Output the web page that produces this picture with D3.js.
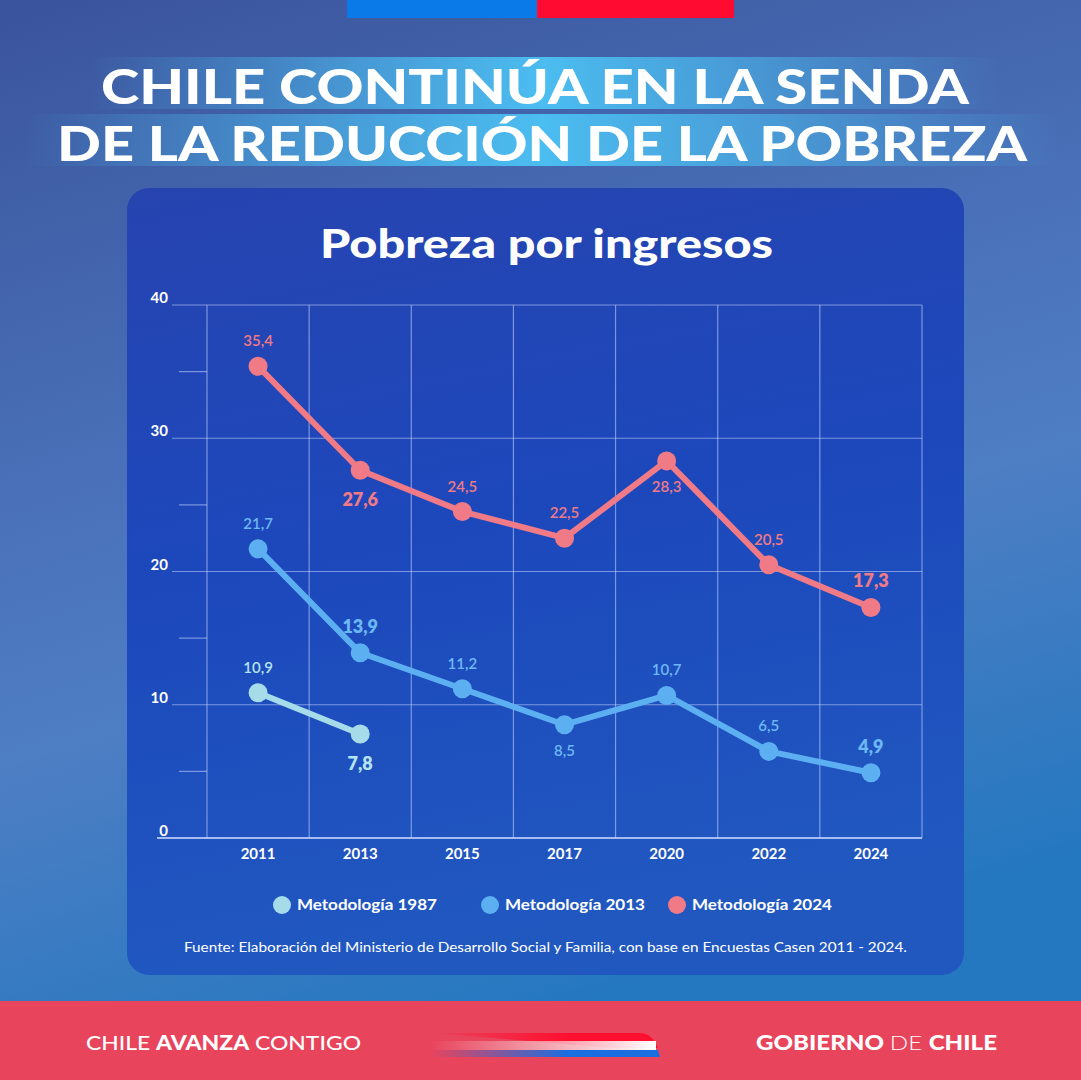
<!DOCTYPE html>
<html lang="es">
<head>
<meta charset="UTF-8">
<title>Pobreza por ingresos</title>
<script src="https://cdn.jsdelivr.net/npm/d3@7"></script>
<style>
  body { margin: 0; background: #3a5aa0; }
  svg { display: block; }
  text { font-family: Lato, "Open Sans", sans-serif; }
</style>
</head>
<body>
<div id="chart"></div>
<script>
// data
const years = ["2011", "2013", "2015", "2017", "2020", "2022", "2024"];
const met1987 = [10.9, 7.8, null, null, null, null, null];
const met2013 = [21.7, 13.9, 11.2, 8.5, 10.7, 6.5, 4.9];
const met2024 = [35.4, 27.6, 24.5, 22.5, 28.3, 20.5, 17.3];
const yTicks = [0, 10, 20, 30, 40];
const seriesNames = ["Metodología 1987", "Metodología 2013", "Metodología 2024"];

// label placement: 1 = above, -1 = below; big = highlighted value
const place1987 = [1, -1];
const place2013 = [1, 1, 1, -1, 1, 1, 1];
const place2024 = [1, -1, 1, 1, -1, 1, 1];
const big1987 = [false, true];
const big2013 = [false, true, false, false, false, false, true];
const big2024 = [false, true, false, false, false, false, true];

const W = 1081, H = 1080;
const svg = d3.select("#chart").append("svg").attr("width", W).attr("height", H);
const defs = svg.append("defs");

const bg = defs.append("linearGradient").attr("id", "bg").attr("x1", 0).attr("y1", 0).attr("x2", 0.3).attr("y2", 1);
bg.append("stop").attr("offset", 0).attr("stop-color", "#3a549c");
bg.append("stop").attr("offset", 0.45).attr("stop-color", "#4a72ba");
bg.append("stop").attr("offset", 0.65).attr("stop-color", "#4e7ec4");
bg.append("stop").attr("offset", 1).attr("stop-color", "#2478c0");

const panel = defs.append("linearGradient").attr("id", "panel").attr("x1", 0).attr("y1", 0).attr("x2", 0.2).attr("y2", 1);
panel.append("stop").attr("offset", 0).attr("stop-color", "#2744b0");
panel.append("stop").attr("offset", 0.5).attr("stop-color", "#1c48bc");
panel.append("stop").attr("offset", 1).attr("stop-color", "#2158c0");

const band = defs.append("linearGradient").attr("id", "band").attr("x1", 0).attr("x2", 1).attr("y1", 0).attr("y2", 0);
band.append("stop").attr("offset", 0).attr("stop-color", "#4cc2f4").attr("stop-opacity", 0);
band.append("stop").attr("offset", 0.3).attr("stop-color", "#4cc2f4").attr("stop-opacity", 0.6);
band.append("stop").attr("offset", 0.5).attr("stop-color", "#4cc2f4").attr("stop-opacity", 0.95);
band.append("stop").attr("offset", 0.7).attr("stop-color", "#4cc2f4").attr("stop-opacity", 0.6);
band.append("stop").attr("offset", 1).attr("stop-color", "#4cc2f4").attr("stop-opacity", 0);

const whiteFade = defs.append("linearGradient").attr("id", "whiteFade").attr("x1", 0).attr("x2", 1);
whiteFade.append("stop").attr("offset", 0).attr("stop-color", "#fff").attr("stop-opacity", 0);
whiteFade.append("stop").attr("offset", 1).attr("stop-color", "#fff").attr("stop-opacity", 1);
const redFade = defs.append("linearGradient").attr("id", "redFade").attr("x1", 0).attr("x2", 1);
redFade.append("stop").attr("offset", 0).attr("stop-color", "#ff1030").attr("stop-opacity", 0);
redFade.append("stop").attr("offset", 0.6).attr("stop-color", "#ff1030").attr("stop-opacity", 1);
const blueFade = defs.append("linearGradient").attr("id", "blueFade").attr("x1", 0).attr("x2", 1);
blueFade.append("stop").attr("offset", 0).attr("stop-color", "#1a6ee0").attr("stop-opacity", 0);
blueFade.append("stop").attr("offset", 0.6).attr("stop-color", "#1a6ee0").attr("stop-opacity", 1);

// background
svg.append("rect").attr("width", W).attr("height", H).attr("fill", "url(#bg)");

// flag strip at top
svg.append("rect").attr("x", 347).attr("y", 0).attr("width", 190).attr("height", 18).attr("fill", "#0a7ae8");
svg.append("rect").attr("x", 537).attr("y", 0).attr("width", 197).attr("height", 18).attr("fill", "#ff0a30");

// headline
svg.append("rect").attr("x", 90).attr("y", 57).attr("width", 910).attr("height", 52).attr("fill", "url(#band)");
svg.append("rect").attr("x", 25).attr("y", 114).attr("width", 1035).attr("height", 52).attr("fill", "url(#band)");
svg.append("text").attr("x", 101).attr("y", 104)
  .attr("textLength", 868).attr("lengthAdjust", "spacingAndGlyphs")
  .attr("font-size", 48).attr("font-weight", 900).attr("fill", "#fff")
  .text("CHILE CONTINÚA EN LA SENDA");
svg.append("text").attr("x", 57).attr("y", 161)
  .attr("textLength", 970).attr("lengthAdjust", "spacingAndGlyphs")
  .attr("font-size", 48).attr("font-weight", 900).attr("fill", "#fff")
  .text("DE LA REDUCCIÓN DE LA POBREZA");

// panel
svg.append("rect").attr("x", 127).attr("y", 188).attr("width", 837).attr("height", 787)
  .attr("rx", 22).attr("fill", "url(#panel)");
svg.append("text").attr("x", 320).attr("y", 258)
  .attr("textLength", 453).attr("lengthAdjust", "spacingAndGlyphs")
  .attr("font-size", 40).attr("font-weight", 900).attr("fill", "#fff")
  .text("Pobreza por ingresos");

// scales
const x = d3.scaleBand().domain(years).range([207, 922]);
const y = d3.scaleLinear().domain([0, 40]).range([838, 305]);
const cx = d => x(d) + x.bandwidth() / 2;
const gridColor = "rgba(200,215,255,0.55)";

const g = svg.append("g");

// vertical grid
g.selectAll(".vg").data(years).enter().append("line")
  .attr("x1", d => x(d)).attr("x2", d => x(d))
  .attr("y1", y(40)).attr("y2", y(0))
  .attr("stroke", gridColor).attr("stroke-width", 1.2);
g.append("line").attr("x1", 922).attr("x2", 922).attr("y1", y(40)).attr("y2", y(0))
  .attr("stroke", gridColor).attr("stroke-width", 1.2);

// horizontal grid + minor ticks
g.selectAll(".hg").data(yTicks).enter().append("line")
  .attr("x1", d => d === 0 ? 157 : 172).attr("x2", 922)
  .attr("y1", d => y(d)).attr("y2", d => y(d))
  .attr("stroke", d => d === 0 ? "rgba(200,215,255,0.8)" : gridColor).attr("stroke-width", d => d === 0 ? 2 : 1.2);
g.selectAll(".mt").data(d3.range(5, 40, 10)).enter().append("line")
  .attr("x1", 179).attr("x2", 207)
  .attr("y1", d => y(d)).attr("y2", d => y(d))
  .attr("stroke", gridColor).attr("stroke-width", 1.2);

// axis labels
g.selectAll(".yl").data(yTicks).enter().append("text")
  .attr("x", 168).attr("y", d => y(d) - 2).attr("text-anchor", "end")
  .attr("font-size", 15).attr("font-weight", 700).attr("fill", "#fff")
  .text(d => d);
g.selectAll(".xl").data(years).enter().append("text")
  .attr("x", d => cx(d)).attr("y", 859).attr("text-anchor", "middle")
  .attr("font-size", 15).attr("font-weight", 700).attr("fill", "#fff")
  .text(d => d);

// series
const series = [
  { vals: met1987, color: "#a6dcea", labelColor: "#b4e4f0", place: place1987, big: big1987 },
  { vals: met2013, color: "#5cb0f2", labelColor: "#6cb8f4", place: place2013, big: big2013 },
  { vals: met2024, color: "#f07a86", labelColor: "#f07a86", place: place2024, big: big2024 }
];
const fmt = v => v.toFixed(1).replace(".", ",");

series.forEach(s => {
  const pts = years.map((yr, i) => ({ yr, v: s.vals[i], i })).filter(d => d.v != null);
  const line = d3.line().x(d => cx(d.yr)).y(d => y(d.v));
  g.append("path").datum(pts).attr("d", line)
    .attr("fill", "none").attr("stroke", s.color).attr("stroke-width", 6)
    .attr("stroke-linejoin", "round");
  g.selectAll(null).data(pts).enter().append("circle")
    .attr("cx", d => cx(d.yr)).attr("cy", d => y(d.v)).attr("r", 9.5)
    .attr("fill", s.color);
  g.selectAll(null).data(pts).enter().append("text")
    .attr("x", d => cx(d.yr))
    .attr("y", d => y(d.v) + (s.place[d.i] > 0 ? -20 : (s.big[d.i] ? 36 : 31)))
    .attr("text-anchor", "middle")
    .attr("font-size", d => s.big[d.i] ? 18 : 15)
    .attr("font-weight", d => s.big[d.i] ? 800 : 600)
    .attr("fill", s.labelColor)
    .text(d => fmt(d.v));
});

// legend
const legX = [282, 490, 677];
series.forEach((s, i) => {
  svg.append("circle").attr("cx", legX[i]).attr("cy", 905).attr("r", 9).attr("fill", s.color);
  svg.append("text").attr("x", legX[i] + 15).attr("y", 910)
    .attr("textLength", 140).attr("lengthAdjust", "spacingAndGlyphs")
    .attr("font-size", 16).attr("font-weight", 700).attr("fill", "#fff")
    .text(seriesNames[i]);
});

svg.append("text").attr("x", 184).attr("y", 952)
  .attr("textLength", 723).attr("lengthAdjust", "spacingAndGlyphs")
  .attr("font-size", 14).attr("fill", "#fff")
  .text("Fuente: Elaboración del Ministerio de Desarrollo Social y Familia, con base en Encuestas Casen 2011 - 2024.");

// footer
svg.append("rect").attr("x", 0).attr("y", 1001).attr("width", W).attr("height", 79).attr("fill", "#e8445c");
const f1 = svg.append("text").attr("x", 86).attr("y", 1050).attr("font-size", 20).attr("fill", "#fff")
  .attr("textLength", 275).attr("lengthAdjust", "spacingAndGlyphs");
f1.append("tspan").attr("font-weight", 500).text("CHILE ");
f1.append("tspan").attr("font-weight", 900).text("AVANZA");
f1.append("tspan").attr("font-weight", 500).text(" CONTIGO");
const f2 = svg.append("text").attr("x", 997).attr("y", 1050).attr("text-anchor", "end")
  .attr("font-size", 20).attr("fill", "#fff")
  .attr("textLength", 241).attr("lengthAdjust", "spacingAndGlyphs");
f2.append("tspan").attr("font-weight", 900).text("GOBIERNO ");
f2.append("tspan").attr("font-weight", 300).text("DE ");
f2.append("tspan").attr("font-weight", 900).text("CHILE");

// logo stripes
svg.append("path").attr("d", "M432,1033 L640,1033 Q652,1033 658,1048 L612,1048 Z").attr("fill", "url(#redFade)");
svg.append("rect").attr("x", 430).attr("y", 1041).attr("width", 226).attr("height", 9).attr("fill", "url(#whiteFade)");
svg.append("path").attr("d", "M430,1050 L658,1050 L660,1057 L432,1057 Z").attr("fill", "url(#blueFade)");
</script>
</body>
</html>
